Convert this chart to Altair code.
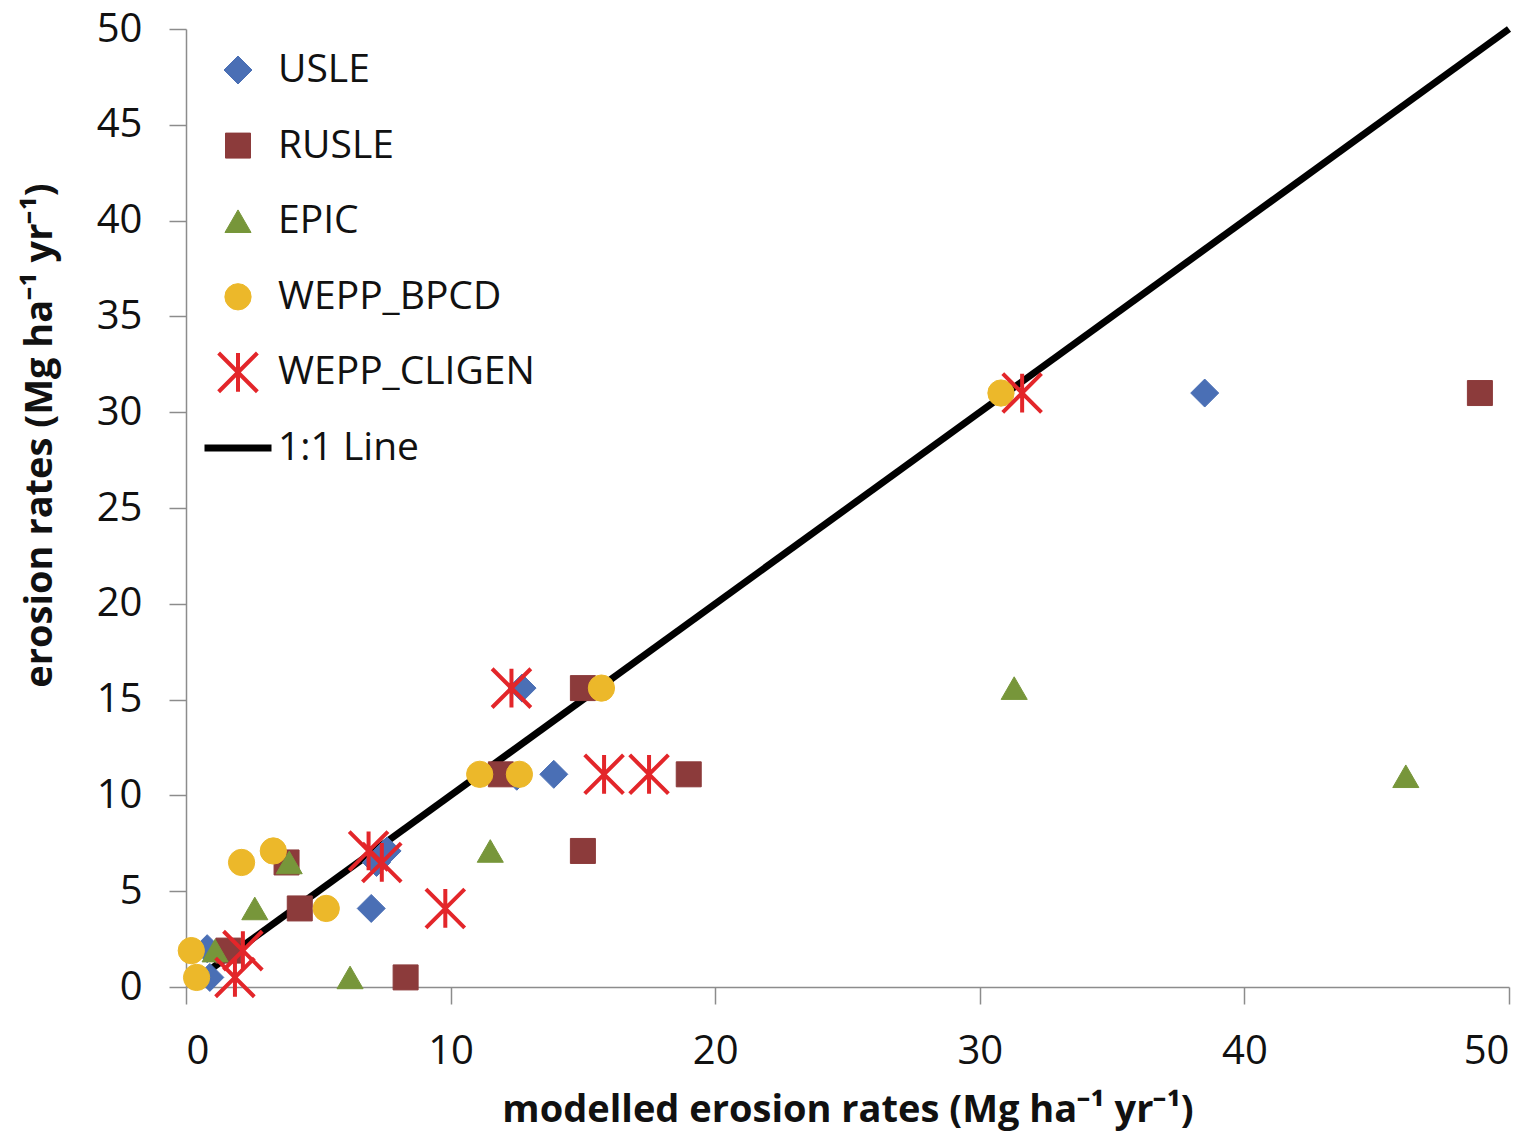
import altair as alt
import pandas as pd

series_names = ["USLE", "RUSLE", "EPIC", "WEPP_BPCD", "WEPP_CLIGEN", "1:1 Line"]

usle_x = [38.5, 12.7, 13.9, 12.5, 7.6, 7.2, 7.0, 0.8, 0.9]
usle_y = [31.0, 15.6, 11.1, 11.0, 7.1, 6.5, 4.1, 2.0, 0.5]

rusle_x = [48.9, 15.0, 11.9, 19.0, 15.0, 3.8, 4.3, 8.3, 1.6]
rusle_y = [31.0, 15.6, 11.1, 11.1, 7.1, 6.5, 4.1, 0.5, 1.9]

epic_x = [31.3, 46.1, 11.5, 3.9, 2.6, 6.2, 1.1]
epic_y = [15.6, 11.0, 7.1, 6.5, 4.1, 0.5, 1.9]

bpcd_x = [30.8, 15.7, 11.1, 12.6, 3.3, 2.1, 5.3, 0.2, 0.4]
bpcd_y = [31.0, 15.6, 11.1, 11.1, 7.1, 6.5, 4.1, 1.9, 0.5]

cligen_x = [31.6, 12.3, 15.8, 17.5, 6.9, 7.4, 9.8, 2.15, 1.85]
cligen_y = [31.0, 15.6, 11.1, 11.1, 7.1, 6.5, 4.1, 1.9, 0.5]

line_x = [1, 50]
line_y = [1, 50]

colors = ["#4a6fb5", "#8c3b3b", "#77963a", "#ecb82a", "#e3262a", "#000000"]
ASTERISK = "M-1,-1L1,1M-1,1L1,-1M0,-1L0,1"
shapes = ["diamond", "square", "triangle-up", "circle", ASTERISK, "stroke"]
sizes = [784, 625, 680, 690, 1500, 4489]
stroke_widths = [1, 1, 1, 1, 4, 7]

rows = []
for name, xs, ys in [
    ("USLE", usle_x, usle_y),
    ("RUSLE", rusle_x, rusle_y),
    ("EPIC", epic_x, epic_y),
    ("WEPP_BPCD", bpcd_x, bpcd_y),
    ("WEPP_CLIGEN", cligen_x, cligen_y),
]:
    for xv, yv in zip(xs, ys):
        rows.append({"series": name, "x": xv, "y": yv})
df = pd.DataFrame(rows)
line_df = pd.DataFrame({"x": line_x, "y": line_y})

FONT = "Open Sans"

xscale = alt.Scale(domain=[0, 50], nice=False)
yscale = alt.Scale(domain=[0, 50], nice=False)

xaxis = alt.Axis(
    title="modelled erosion rates (Mg ha⁻¹ yr⁻¹)",
    values=[0, 10, 20, 30, 40, 50],
    labelPadding=27,
    titlePadding=20,
)
yaxis = alt.Axis(
    title="erosion rates (Mg ha⁻¹ yr⁻¹)",
    values=list(range(0, 55, 5)),
    labelPadding=27,
    titleX=-146,
    titleY=406,
    titleBaseline="middle",
    titleAlign="center",
)

legend = alt.Legend(
    title=None,
    orient="none",
    legendX=15,
    legendY=11,
    labelFont=FONT,
    labelFontSize=39,
    labelColor="#111111",
    labelOffset=3,
    labelLimit=0,
    clipHeight=60,
    rowPadding=15.6,
    padding=0,
)

base_line = alt.Chart(line_df).mark_line(color="black", strokeWidth=7).encode(
    x=alt.X("x:Q", scale=xscale, axis=xaxis),
    y=alt.Y("y:Q", scale=yscale, axis=yaxis),
)

points = alt.Chart(df).mark_point(filled=True, opacity=1).encode(
    x=alt.X("x:Q", scale=xscale, axis=xaxis),
    y=alt.Y("y:Q", scale=yscale, axis=yaxis),
    fill=alt.Fill("series:O", sort=series_names, scale=alt.Scale(domain=series_names, range=colors), legend=legend),
    stroke=alt.Stroke("series:O", sort=series_names, scale=alt.Scale(domain=series_names, range=colors), legend=legend),
    shape=alt.Shape("series:O", sort=series_names, scale=alt.Scale(domain=series_names, range=shapes), legend=legend),
    size=alt.Size("series:O", sort=series_names, scale=alt.Scale(type="ordinal", domain=series_names, range=sizes), legend=legend),
    strokeWidth=alt.StrokeWidth("series:O", sort=series_names, scale=alt.Scale(type="ordinal", domain=series_names, range=stroke_widths), legend=legend),
    order=alt.Order("idx:Q"),
).transform_window(idx="row_number()")

chart = (
    alt.layer(base_line, points)
    .properties(
        width=1323,
        height=958,
        padding={"left": 178, "top": 21, "right": 20, "bottom": 148},
        autosize=alt.AutoSizeParams(type="none"),
    )
    .configure_view(stroke=None)
    .configure_axis(
        grid=False,
        domainColor="#8c8c8c",
        domainWidth=1.5,
        tickColor="#8c8c8c",
        tickWidth=1.5,
        tickSize=17,
        labelFont=FONT,
        labelFontSize=40,
        labelColor="#111111",
        titleFont=FONT,
        titleFontSize=38,
        titleFontWeight="bold",
        titleColor="#111111",
    )
)

chart.save("out.html", embed_options={"renderer": "svg", "actions": False})
